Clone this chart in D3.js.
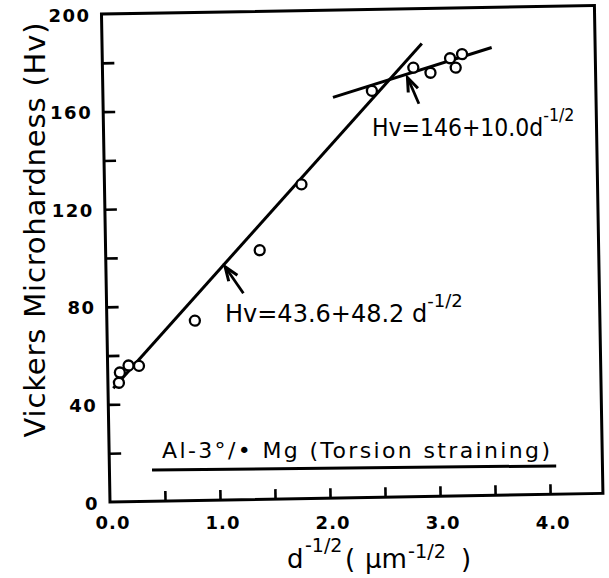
<!DOCTYPE html>
<html>
<head>
<meta charset="utf-8">
<script src="https://cdn.jsdelivr.net/npm/d3@7"></script>
<style>
  body { margin: 0; background: #fff; }
  svg { display: block; font-family: "DejaVu Sans", "Liberation Sans", Arial, sans-serif; }
</style>
</head>
<body>
<svg id="chart" width="609" height="578"></svg>
<script>
// data (d^-1/2 in um^-1/2, Hv)
const grainX = [0.10, 0.11, 0.19, 0.285, 0.80, 1.40, 1.79, 2.445, 2.825, 2.98, 3.16, 3.21, 3.27];
const hardY  = [48.8, 53.0, 55.8, 55.6, 73.7, 102.1, 128.8, 166.6, 175.8, 173.6, 179.4, 175.5, 181.0];

// the two fitted lines, as drawn
const fitLowX = [0.048, 2.906];
const fitLowY = [46.6, 185.7];
const fitHighX = [2.09, 3.54];
const fitHighY = [164.2, 183.5];

// arrows: [tail, tip]
const arrowLow = [[1.245, 84.6], [1.083, 95.6]];
const arrowHigh = [[2.87, 161.0], [2.77, 171.8]];

// underline under the alloy label
const underline = [[0.387, 12.8], [4.06, 11.6]];

const xTicks = [0.5, 1.0, 1.5, 2.0, 2.5, 3.0, 3.5, 4.0];
const yTicks = [20, 40, 60, 80, 100, 120, 140, 160, 180];
const xTickLabels = ["0.0", "1.0", "2.0", "3.0", "4.0"];
const yTickLabels = ["0", "40", "80", "120", "160", "200"];

const svg = d3.select("#chart");

const CX = 110, CY = 502;   // plot origin
const TILT = -1;            // the scan is a little rotated

const x = d3.scaleLinear().domain([0, 4.48]).range([110, 603]);
const y = d3.scaleLinear().domain([0, 200]).range([502, 14]);

// where a local point ends up after the tilt
function rot(px, py) {
  const a = TILT * Math.PI / 180, dx = px - CX, dy = py - CY;
  return [CX + dx * Math.cos(a) - dy * Math.sin(a), CY + dx * Math.sin(a) + dy * Math.cos(a)];
}

const g = svg.append("g").attr("transform", `rotate(${TILT},${CX},${CY})`);

// frame
g.append("rect")
  .attr("x", x(0)).attr("y", y(200))
  .attr("width", x(4.48) - x(0)).attr("height", y(0) - y(200))
  .attr("fill", "none").attr("stroke", "#000").attr("stroke-width", 3);

// inward ticks
const yAxis = g.append("g").attr("transform", `translate(${x(0)},0)`)
  .call(d3.axisLeft(y).tickValues(yTicks).tickSize(-12).tickSizeOuter(0).tickFormat(""));
const xAxis = g.append("g").attr("transform", `translate(0,${y(0)})`)
  .call(d3.axisBottom(x).tickValues(xTicks).tickSize(-10).tickSizeOuter(0).tickFormat(""));
[yAxis, xAxis].forEach(a => {
  a.select(".domain").remove();
  a.selectAll(".tick line").attr("stroke", "#000").attr("stroke-width", 2.6);
});

const line = d3.line().x(d => x(d[0])).y(d => y(d[1]));

// fitted lines
[[fitLowX, fitLowY], [fitHighX, fitHighY]].forEach(([xs, ys]) => {
  g.append("path")
    .attr("d", line(xs.map((v, i) => [v, ys[i]])))
    .attr("fill", "none").attr("stroke", "#000").attr("stroke-width", 3);
});

// arrows
[arrowLow, arrowHigh].forEach(([tail, tip]) => {
  const tx = x(tail[0]), ty = y(tail[1]), hx = x(tip[0]), hy = y(tip[1]);
  const ang = Math.atan2(ty - hy, tx - hx);
  const L = 15, spread = 0.36;
  const b1 = [hx + L * Math.cos(ang + spread), hy + L * Math.sin(ang + spread)];
  const b2 = [hx + L * Math.cos(ang - spread), hy + L * Math.sin(ang - spread)];
  g.append("path")
    .attr("d", `M${tx},${ty}L${hx},${hy}`)
    .attr("fill", "none").attr("stroke", "#000").attr("stroke-width", 2.8);
  g.append("path")
    .attr("d", `M${b1[0]},${b1[1]}L${hx},${hy}L${b2[0]},${b2[1]}`)
    .attr("fill", "none").attr("stroke", "#000").attr("stroke-width", 3)
    .attr("stroke-linejoin", "miter");
});

// underline
g.append("path")
  .attr("d", line(underline))
  .attr("fill", "none").attr("stroke", "#000").attr("stroke-width", 3);

// points
g.selectAll("circle.pt")
  .data(grainX.map((v, i) => [v, hardY[i]]))
  .enter()
  .append("circle")
  .attr("class", "pt")
  .attr("cx", d => x(d[0]))
  .attr("cy", d => y(d[1]))
  .attr("r", 5)
  .attr("fill", "#fff").attr("stroke", "#000").attr("stroke-width", 2.3);

// ---- text (not tilted, like the pasted labels in the scan)
const t = svg.append("g").attr("fill", "#000");

yTickLabels.forEach(s => {
  const p = rot(x(0), y(+s));
  t.append("text")
    .attr("x", p[0] - 11).attr("y", p[1] + 1)
    .attr("text-anchor", "end").attr("dominant-baseline", "central")
    .attr("font-size", 18).attr("font-weight", "bold").attr("letter-spacing", 1.5)
    .text(s);
});

xTickLabels.forEach(s => {
  const p = rot(x(+s), y(0));
  t.append("text")
    .attr("x", p[0] + 3).attr("y", 522)
    .attr("text-anchor", "middle").attr("dominant-baseline", "central")
    .attr("font-size", 18).attr("font-weight", "bold").attr("letter-spacing", 1)
    .text(s);
});

// y title
t.append("text")
  .attr("transform", "translate(45,230) rotate(-90)")
  .attr("text-anchor", "middle")
  .attr("font-size", 29)
  .attr("textLength", 415).attr("lengthAdjust", "spacing")
  .text("Vickers Microhardness (Hv)");

// x title: d^-1/2 ( um^-1/2 )
t.append("text").attr("x", 287).attr("y", 568).attr("font-size", 26).text("d");
t.append("text").attr("x", 305).attr("y", 552).attr("font-size", 19).text("-1/2");
t.append("text").attr("x", 345).attr("y", 568).attr("font-size", 26).text("(");
t.append("text").attr("x", 365).attr("y", 568).attr("font-size", 26)
  .attr("textLength", 42).attr("lengthAdjust", "spacingAndGlyphs").text("μm");
t.append("text").attr("x", 408).attr("y", 558).attr("font-size", 19)
  .attr("textLength", 38).attr("lengthAdjust", "spacingAndGlyphs").text("-1/2");
t.append("text").attr("x", 461).attr("y", 568).attr("font-size", 26).text(")");

// equations (main part + superscript in one text)
function equation(px, py, sx, size, main) {
  const e = t.append("text")
    .attr("transform", `translate(${px},${py}) scale(${sx},1)`)
    .attr("font-size", size);
  e.append("tspan").text(main);
  e.append("tspan").attr("dy", -15).attr("font-size", 18).text("-1/2");
}
equation(225, 322, 1.0, 24, "Hv=43.6+48.2 d");
equation(372, 136, 0.88, 25, "Hv=146+10.0d");

// alloy label
t.append("text").attr("x", 162).attr("y", 458).attr("font-size", 22)
  .attr("textLength", 388).attr("lengthAdjust", "spacing")
  .text("Al-3°/• Mg (Torsion straining)");
</script>
</body>
</html>
